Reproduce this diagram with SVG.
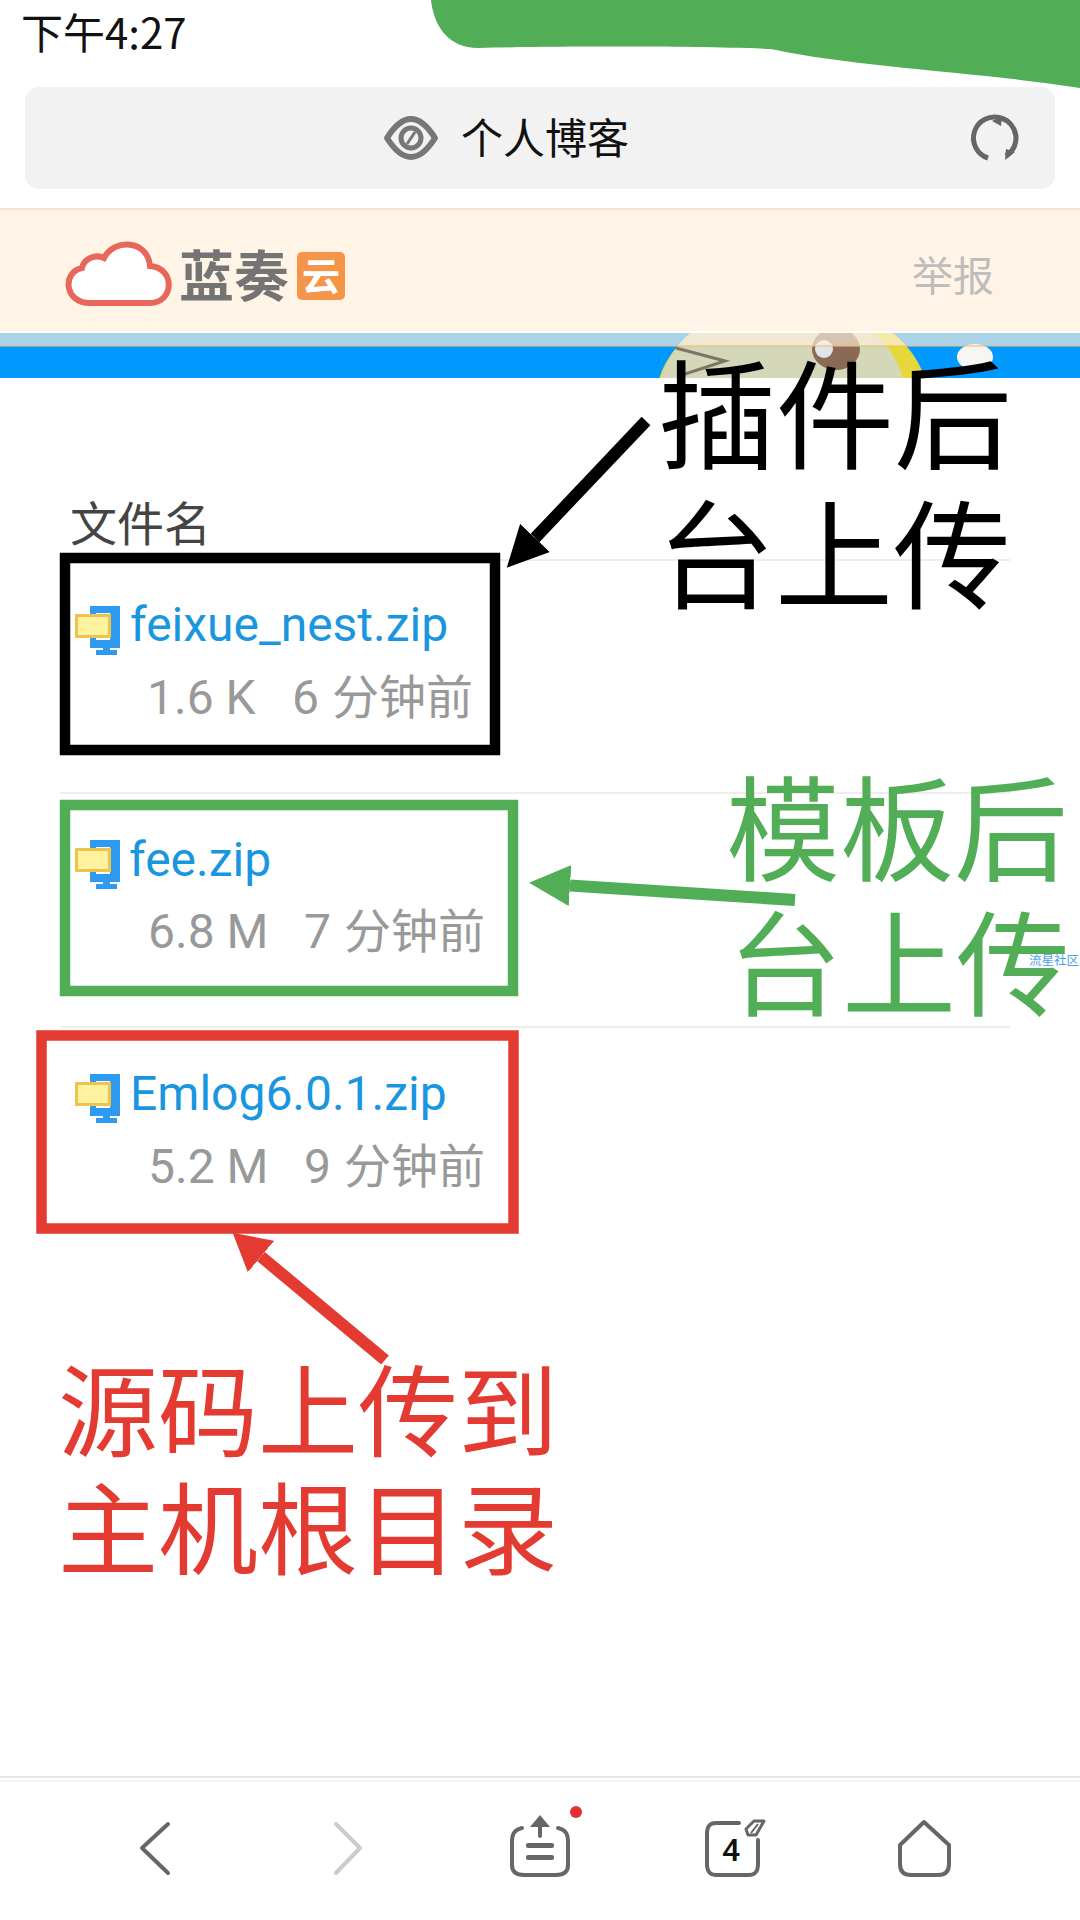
<svg xmlns="http://www.w3.org/2000/svg" width="1080" height="1920" viewBox="0 0 1080 1920">
<style>
text{font-family:"Noto Sans CJK SC","Noto Sans",sans-serif}
.name{font-family:Roboto,"Noto Sans",sans-serif;font-size:48px;fill:#1a96e0}
.meta{font-size:47px;fill:#999}
.num{font-family:Roboto,"Noto Sans",sans-serif;font-size:48px;fill:#999}
.box{fill:none;stroke-width:10.5}
.big{font-size:118px}
.mid{font-size:114px;fill:#51ad56}
.red{font-size:100px;fill:#e33b32}
.ic{fill:none;stroke:#666;stroke-width:4;stroke-linecap:round;stroke-linejoin:round}
.sep{stroke:#eee;stroke-width:2}
.b{fill:#2f9bf0}
</style>
<defs>
<marker id="hb" viewBox="0 0 41 41" refX="0" refY="20.5" markerWidth="3.42" markerHeight="3.42" orient="auto"><path d="M0 0L41 20.5L0 41Z" fill="#000"/></marker>
<marker id="hg" viewBox="0 0 41 41" refX="0" refY="20.5" markerWidth="3.42" markerHeight="3.42" orient="auto"><path d="M0 0L41 20.5L0 41Z" fill="#51ad56"/></marker>
<marker id="hr" viewBox="0 0 37 41" refX="0" refY="20.5" markerWidth="3.08" markerHeight="3.42" orient="auto"><path d="M0 0L37 20.5L0 41Z" fill="#e33b32"/></marker>
<g id="fileicon">
<rect class="b" x="90" y="606" width="30" height="7"/><rect class="b" x="110" y="606" width="10" height="42"/><rect class="b" x="90" y="640" width="30" height="8"/><rect class="b" x="90" y="606" width="6" height="42"/>
<rect class="b" x="103" y="647" width="7" height="6"/><rect class="b" x="96" y="650" width="21" height="5"/>
<rect x="76.500" y="615.500" width="33" height="21" fill="#fff3a0" stroke="#eec44f" stroke-width="3"/>
</g>
<clipPath id="band"><rect x="0" y="333" width="1080" height="45"/></clipPath>
</defs>
<rect width="1080" height="1920" fill="#fff"/>
<g id="statusbar">
<path d="M431 0C434 28 450 48 478 48C560 46 700 46 771 49C860 68 980 72 1080 88V0Z" fill="#51ad56"/>
<text x="21" y="49" font-size="42" fill="#111">下午4:27</text>
</g>
<g id="addressbar">
<rect x="25" y="87" width="1030" height="102" rx="14" fill="#f2f2f2"/>
<path d="M387 138Q411 100 435 138Q411 176 387 138Z" fill="none" stroke="#777" stroke-width="6" stroke-linejoin="round"/>
<circle cx="411" cy="138" r="10" fill="none" stroke="#777" stroke-width="5"/><path d="M407 144L415 132" stroke="#777" stroke-width="3"/>
<text x="461" y="154" font-size="42" fill="#111">个人博客</text>
<path d="M1001 118A21 21 0 0 0 988 158" fill="none" stroke="#666" stroke-width="5"/>
<path d="M1001 118A21 21 0 0 1 1006 156" fill="none" stroke="#666" stroke-width="5"/>
<path d="M1002 116L992 121L1001 126Z M1005 160L1015 152L1006 149Z" fill="#666"/>
</g>
<g id="siteheader">
<rect y="208" width="1080" height="2" fill="#f0e4dc"/>
<rect y="210" width="1080" height="121" fill="#fff4e6"/>
<path d="M90 303C64 303 62 272 82 268C84 258 96 254 104 258C114 238 148 240 150 266C176 268 174 303 150 303Z" fill="#fff" stroke="#e8665a" stroke-width="6"/>
<text x="179" y="296" font-size="55" font-weight="700" fill="#747474">蓝奏</text>
<rect x="297" y="252" width="48" height="48" rx="5" fill="#f5954a"/>
<text x="302" y="290" font-size="38" font-weight="700" fill="#fff">云</text>
<text x="912" y="291" font-size="41" fill="#bdbdbd">举报</text>
</g>
<g id="banner">
<rect y="333" width="1080" height="45" fill="#0099ff"/>
<g clip-path="url(#band)">
<ellipse cx="792" cy="400" rx="136" ry="100" fill="#e6d83a"/>
<ellipse cx="782" cy="400" rx="124" ry="100" fill="#d5d8b8"/>
<path d="M676 348L725 361L682 375" fill="none" stroke="#7d7565" stroke-width="3"/>
<ellipse cx="836" cy="349" rx="24" ry="21" fill="#8a6a55"/>
<circle cx="824" cy="349" r="9" fill="#dfe6ea"/>
<ellipse cx="975" cy="357" rx="18" ry="13" fill="#f6f6f2"/>
</g>
<rect y="333" width="1080" height="13" fill="#fdf0dc" opacity=".67"/>
<rect y="345" width="1080" height="2" fill="#eebb77" opacity=".55"/>
</g>
<g id="list">
<text x="70" y="541" font-size="47" fill="#444">文件名</text>
<line class="sep" x1="60" y1="560" x2="1010" y2="560"/>
<line class="sep" x1="60" y1="793" x2="1010" y2="793"/>
<line class="sep" x1="60" y1="1027" x2="1010" y2="1027"/>
</g>
<g id="file-feixue">
<use href="#fileicon"/>
<text class="name" x="130" y="641">feixue_nest.zip</text>
<text class="num" x="147" y="714">1.6 K</text><text class="num" x="292" y="714">6</text><text class="meta" x="332" y="714">分钟前</text>
<rect class="box" x="65" y="558" width="430" height="192" stroke="#000"/>
</g>
<g id="file-fee">
<use href="#fileicon" y="234"/>
<text class="name" x="129" y="876">fee.zip</text>
<text class="num" x="148" y="948">6.8 M</text><text class="num" x="304" y="948">7</text><text class="meta" x="344" y="948">分钟前</text>
<rect class="box" x="65" y="805" width="448" height="186" stroke="#51ad56"/>
</g>
<g id="file-emlog">
<use href="#fileicon" y="468"/>
<text class="name" x="130" y="1110">Emlog6.0.1.zip</text>
<text class="num" x="148" y="1183">5.2 M</text><text class="num" x="304" y="1183">9</text><text class="meta" x="344" y="1183">分钟前</text>
<rect class="box" x="41.500" y="1035.500" width="472" height="193" stroke="#e33b32"/>
</g>
<g id="label-plugin"><text class="big" x="658" y="460" fill="#000">插件后</text><text class="big" x="657" y="600" fill="#000">台上传</text></g>
<g id="label-theme"><text class="mid" x="726" y="872">模板后</text><text class="mid" x="728" y="1007">台上传</text></g>
<g id="label-source"><text class="red" x="58" y="1449">源码上传到</text><text class="red" x="58" y="1567">主机根目录</text></g>
<g id="connectors">
<line x1="646" y1="421" x2="535" y2="538" stroke="#000" stroke-width="12" marker-end="url(#hb)"/>
<line x1="795" y1="900" x2="570" y2="885.500" stroke="#51ad56" stroke-width="12" marker-end="url(#hg)"/>
<line x1="385" y1="1360" x2="261" y2="1256.500" stroke="#e33b32" stroke-width="12" marker-end="url(#hr)"/>
</g>
<text id="watermark" x="1029" y="965" font-size="12.500" fill="#4a9fe8">流星社区</text>
<g id="toolbar">
<rect y="1776" width="1080" height="2" fill="#e6e6e6"/>
<rect y="1780" width="1080" height="2" fill="#f6f6f6"/>
<path class="ic" d="M168 1824L142 1848L168 1873"/>
<path class="ic" d="M336 1824L360 1848L336 1873" style="stroke:#ccc"/>
<path class="ic" d="M522 1828C514 1830 512 1834 512 1842V1865C512 1872 516 1875 524 1875H556C564 1875 568 1872 568 1865V1842C568 1834 566 1830 558 1828M540 1836V1820"/>
<path d="M530 1827L540 1815L550 1827Z" fill="#666"/>
<rect x="526" y="1843" width="28" height="5" rx="2" fill="#666"/><rect x="526" y="1855" width="28" height="5" rx="2" fill="#666"/>
<circle cx="576" cy="1812" r="6" fill="#e53030"/>
<path class="ic" d="M739 1823H716C709 1823 707 1827 707 1834V1864C707 1872 710 1875 717 1875H748C755 1875 758 1872 758 1864V1840"/>
<text x="722" y="1861" font-size="32" font-weight="500" fill="#111" style="font-family:Roboto,sans-serif">4</text>
<path d="M746 1829L754 1821H764L756 1835H748Z" fill="none" stroke="#666" stroke-width="3" stroke-linejoin="round"/>
<path d="M751 1833L758 1824" stroke="#666" stroke-width="2"/>
<path class="ic" d="M924 1822L900 1845V1864C900 1872 904 1875 911 1875H938C945 1875 949 1872 949 1864V1845Z"/>
</g>
</svg>
